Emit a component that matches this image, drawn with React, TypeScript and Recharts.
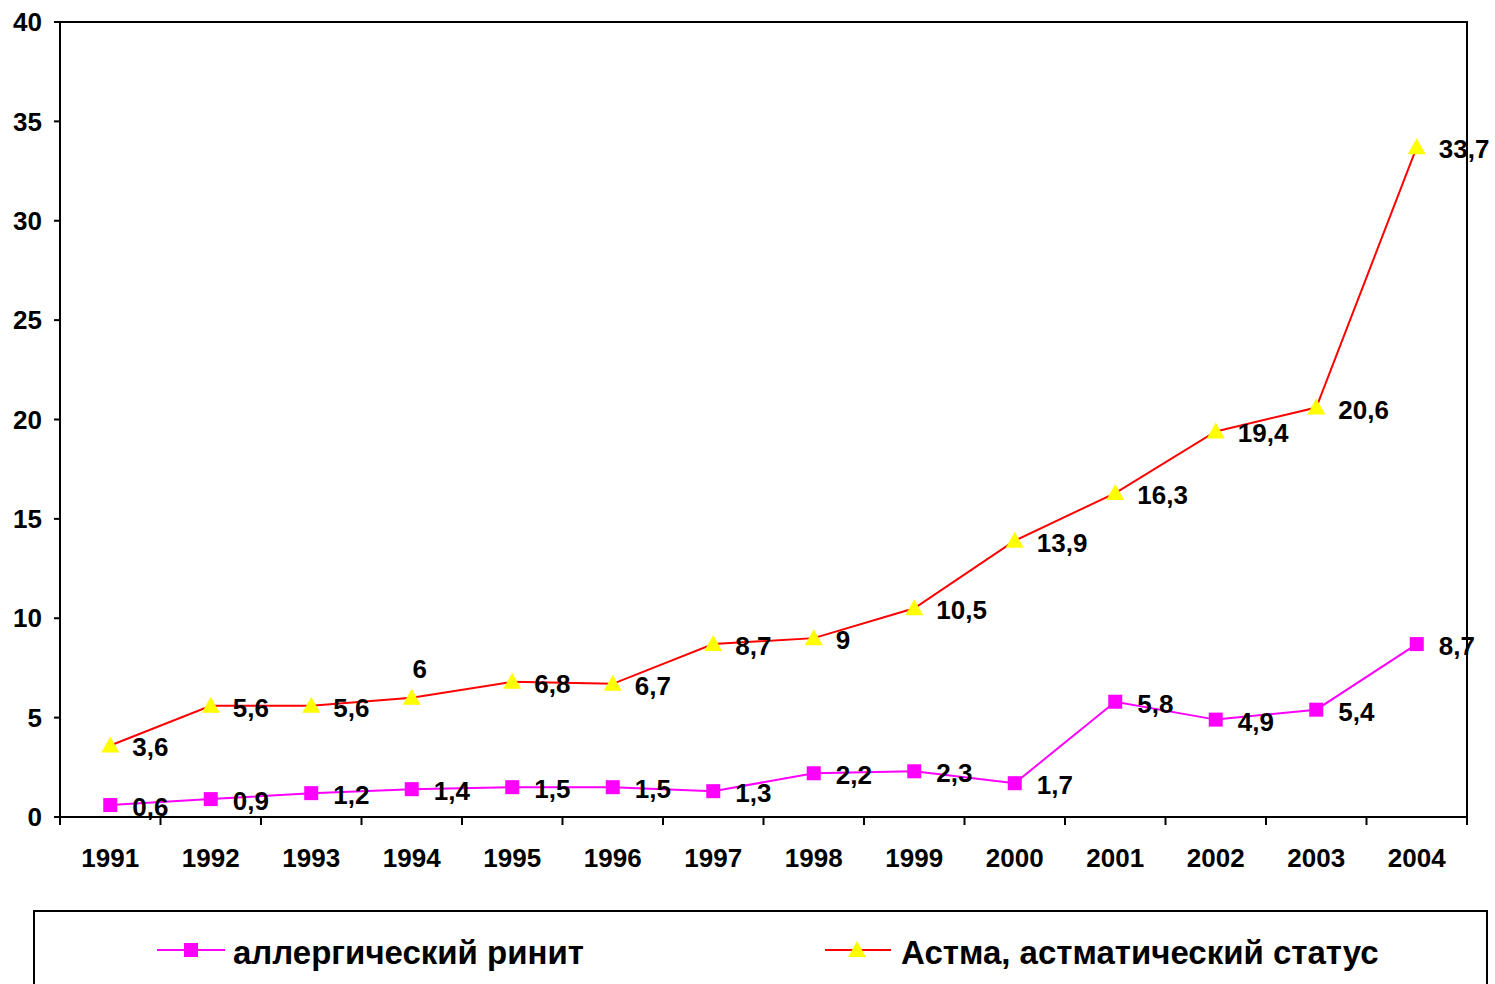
import React from 'react';
import { LineChart, Line, XAxis, YAxis, LabelList, Legend, ReferenceArea } from 'recharts';

const years = [1991, 1992, 1993, 1994, 1995, 1996, 1997, 1998, 1999, 2000, 2001, 2002, 2003, 2004];
const rhinitis = [0.6, 0.9, 1.2, 1.4, 1.5, 1.5, 1.3, 2.2, 2.3, 1.7, 5.8, 4.9, 5.4, 8.7];
const asthma = [3.6, 5.6, 5.6, 6, 6.8, 6.7, 8.7, 9, 10.5, 13.9, 16.3, 19.4, 20.6, 33.7];
const yTicks = [0, 5, 10, 15, 20, 25, 30, 35, 40];

const RHINITIS_NAME = 'аллергический ринит';
const ASTHMA_NAME = 'Астма, астматический статус';

const data = years.map((year, i) => ({ year, rhinitis: rhinitis[i], asthma: asthma[i] }));
// year centres for labels, half-year boundaries for the tick marks
const xTicks = [...years.flatMap((y) => [y - 0.5, y]), years[years.length - 1] + 0.5];

const FONT = '"Liberation Sans", Arial, sans-serif';
const fmt = (v: number) => String(v).replace('.', ',');

const SquareDot = (props: any) => {
  const { cx, cy } = props;
  if (cx == null || cy == null) return null;
  return <rect x={cx - 7} y={cy - 7} width={14} height={14} fill="#FF00FF" />;
};

const TriangleDot = (props: any) => {
  const { cx, cy } = props;
  if (cx == null || cy == null) return null;
  return <polygon points={`${cx},${cy - 9} ${cx - 9},${cy + 7} ${cx + 9},${cy + 7}`} fill="#FFFF00" />;
};

const YearTick = (props: any) => {
  const { x, y, payload } = props;
  if (!Number.isInteger(payload.value)) {
    return <line x1={x} x2={x} y1={y - 8} y2={y} stroke="#000" strokeWidth={2} />;
  }
  return (
    <text x={x} y={y + 33} textAnchor="middle" dominantBaseline="central" fontSize={26} fontWeight="bold" fontFamily={FONT} fill="#000">
      {payload.value}
    </text>
  );
};

const valueLabel = (series: string) => (props: any) => {
  const { x, y, value, index } = props;
  if (series === 'asthma' && index === 3) {
    return (
      <text x={x + 8} y={y - 29} textAnchor="middle" dominantBaseline="central" fontSize={26} fontWeight="bold" fontFamily={FONT} fill="#000">
        {fmt(value)}
      </text>
    );
  }
  return (
    <text x={x + 22} y={y + 2} textAnchor="start" dominantBaseline="central" fontSize={26} fontWeight="bold" fontFamily={FONT} fill="#000">
      {fmt(value)}
    </text>
  );
};

const LegendBox = () => (
  <div
    style={{
      position: 'relative',
      width: 1455,
      height: 90,
      border: '2px solid #000',
      boxSizing: 'border-box',
      fontFamily: FONT,
      fontWeight: 'bold',
      fontSize: 33,
    }}
  >
    <div style={{ position: 'absolute', left: 122, top: 19, display: 'flex', alignItems: 'center' }}>
      <svg width={70} height={40}>
        <line x1={0} x2={68} y1={19} y2={19} stroke="#FF00FF" strokeWidth={2} />
        <rect x={27} y={12} width={14} height={14} fill="#FF00FF" />
      </svg>
      <span style={{ marginLeft: 6, lineHeight: '40px', position: 'relative', top: 2 }}>{RHINITIS_NAME}</span>
    </div>
    <div style={{ position: 'absolute', left: 790, top: 19, display: 'flex', alignItems: 'center' }}>
      <svg width={68} height={40}>
        <line x1={0} x2={66} y1={19} y2={19} stroke="#FF0000" strokeWidth={2} />
        <polygon points="32,10 23,26 41,26" fill="#FFFF00" />
      </svg>
      <span style={{ marginLeft: 8, lineHeight: '40px', position: 'relative', top: 2 }}>{ASTHMA_NAME}</span>
    </div>
  </div>
);

export default function App() {
  return (
    <div>
      <style>{`body{margin:0;background:#fff}`}</style>
      <LineChart width={1495} height={984} data={data} margin={{ top: 22, right: 28, left: 0, bottom: 0 }}>
        <ReferenceArea x1={1990.5} x2={2004.5} y1={0} y2={40} fill="none" stroke="#000" strokeWidth={2} />
        <XAxis
          dataKey="year"
          type="number"
          domain={[1990.5, 2004.5]}
          ticks={xTicks}
          interval={0}
          height={167}
          tickSize={8}
          tickMargin={0}
          tickLine={false}
          axisLine={{ stroke: '#000', strokeWidth: 2 }}
          tick={<YearTick />}
        />
        <YAxis
          domain={[0, 40]}
          ticks={yTicks}
          width={60}
          tickSize={6}
          tickMargin={12}
          axisLine={{ stroke: '#000', strokeWidth: 2 }}
          tickLine={{ stroke: '#000', strokeWidth: 2 }}
          tick={{ fill: '#000', fontSize: 26, fontWeight: 'bold', fontFamily: FONT }}
        />
        <Legend
          layout="horizontal"
          verticalAlign="middle"
          align="center"
          wrapperStyle={{ top: 910, left: 33, width: 1455, height: 90 }}
          content={<LegendBox />}
        />
        <Line
          dataKey="rhinitis"
          name={RHINITIS_NAME}
          stroke="#FF00FF"
          strokeWidth={2}
          dot={<SquareDot />}
          activeDot={false}
          isAnimationActive={false}
        >
          <LabelList dataKey="rhinitis" content={valueLabel('rhinitis')} />
        </Line>
        <Line
          dataKey="asthma"
          name={ASTHMA_NAME}
          stroke="#FF0000"
          strokeWidth={2}
          dot={<TriangleDot />}
          activeDot={false}
          isAnimationActive={false}
        >
          <LabelList dataKey="asthma" content={valueLabel('asthma')} />
        </Line>
      </LineChart>
    </div>
  );
}
